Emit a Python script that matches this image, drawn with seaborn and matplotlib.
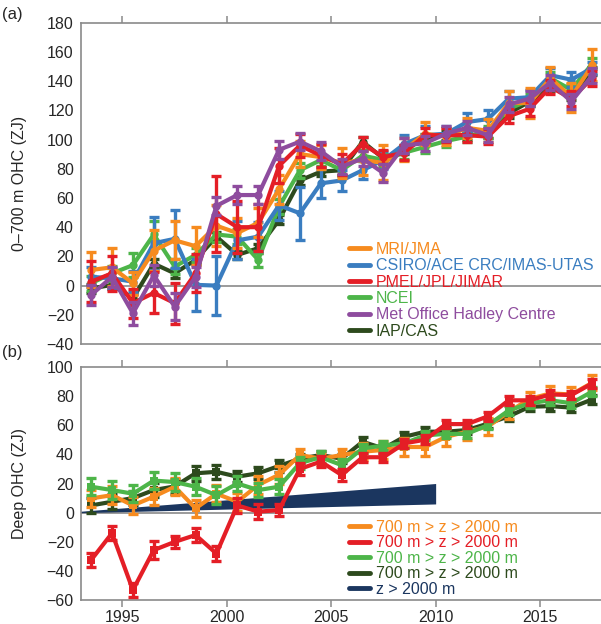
import numpy as np
import pandas as pd
import matplotlib
matplotlib.use("Agg")
import matplotlib.pyplot as plt
import seaborn as sns
from matplotlib.lines import Line2D

# === Data ===
years = [1993.5, 1994.5, 1995.5, 1996.5, 1997.5, 1998.5, 1999.5, 2000.5, 2001.5,
         2002.5, 2003.5, 2004.5, 2005.5, 2006.5, 2007.5, 2008.5, 2009.5, 2010.5,
         2011.5, 2012.5, 2013.5, 2014.5, 2015.5, 2016.5, 2017.5]

# (a) 0-700 m OHC (ZJ)
mri = [10.7, 12.5, 1.6, 24, 31, 27, 41, 36, 43, 66, 90, 88, 84, 86, 84, 93, 104, 102, 108, 106, 125, 125, 142, 129, 151]
mri_err = [12, 13, 8, 14, 13, 13, 14, 10, 10, 10, 9, 8, 10, 10, 12, 8, 8, 6, 7, 8, 8, 10, 8, 10, 11]
csiro = [6, 5, 2.7, 29, 32, 0.5, 0, 31, 33.5, 55, 49.5, 70, 72, 79, 86, 97, 103, 104, 112, 114, 128, 129, 144, 141, 149]
csiro_err = [7, 7, 7, 18, 20, 18, 20, 13, 10, 10, 18, 10, 7, 6, 6, 6, 6, 5, 6, 6, 5, 5, 5, 5, 4]
pmel = [2.7, 8.4, -12, -5, -12, 8.4, 49, 40, 40, 82, 96, 89, 83, 97, 88, 91, 103, 103, 103, 102, 116, 121, 136, 128, 142]
pmel_err = [14, 12, 10, 14, 14, 13, 26, 18, 16, 12, 8, 8, 7, 5, 5, 5, 5, 5, 5, 5, 5, 5, 5, 5, 5]
ncei = [1.6, 8.4, 14, 35, 13, 21, 35, 33.5, 17.6, 54, 79, 86, 79, 89, 86, 91, 95, 99, 102, 105, 121, 127, 142, 134, 152]
ncei_err = [5, 5, 8, 9, 5, 5, 5, 5, 5, 5, 5, 4, 4, 4, 4, 4, 4, 4, 4, 4, 4, 4, 4, 4, 4]
metoffice = [-6.4, 6, -19, 7, -14.4, 6, 54.6, 62, 62, 93, 98.6, 92, 81.5, 87, 77, 96, 97.5, 104, 108, 103, 124, 128, 139, 126, 144]
metoffice_err = [7, 7, 8, 7, 9, 7, 6, 6, 6, 6, 6, 6, 5, 5, 6, 5, 5, 5, 5, 5, 5, 5, 5, 5, 5]
iap = [-2, 0.5, -8.7, 15, 8.4, 17.6, 33.5, 21, 25.6, 45, 72, 78, 79, 98.6, 87, 93, 101, 103, 103, 104, 118, 126, 136, 130, 147]
iap_err = [3, 3, 3, 3, 3, 3, 3, 3, 3, 3, 3, 3, 3, 3, 3, 3, 3, 3, 3, 3, 3, 3, 3, 3, 3]

# (b) deep OHC 700-2000 m (ZJ)
deep_orange = [9.8, 12, 5, 11, 17.8, 3, 13, 7.5, 19, 26, 39.5, 37, 39.5, 41.8, 43, 45, 45, 52, 55.5, 59, 69, 78, 81.7, 81, 89]
deep_orange_err = [6, 6, 6, 6, 6, 6, 6, 6, 6, 6, 4, 4, 4, 6, 6, 6, 6, 6, 6, 6, 5, 5, 5, 5, 5]
deep_red = [-32.4, -14, -53, -25.6, -20, -15.3, -28, 5, 0.7, 1.8, 30, 35, 25.8, 38, 38, 47.5, 50, 60.7, 60.7, 66, 77, 77, 81, 80.6, 88.6]
deep_red_err = [5, 5, 5, 6, 4, 5, 5, 5, 5, 4, 4, 4, 4, 3, 3, 3, 3, 3, 3, 3, 3, 3, 3, 3, 3]
deep_green = [17.8, 15.5, 13, 22, 21, 17.8, 12, 20, 15.5, 17.8, 34, 38, 32.6, 44, 46, 47.5, 53, 54, 54, 60, 70, 75, 77, 75, 83]
deep_green_err = [6, 6, 6, 6, 6, 6, 6, 5, 5, 5, 4, 4, 4, 3, 3, 3, 3, 3, 3, 3, 3, 3, 3, 3, 3]
deep_dark = [5, 7.5, 10, 15.5, 18, 27, 28, 24.7, 27, 32, 37, 39.5, 37, 48.6, 44, 52, 55.5, 55.5, 56.6, 61, 66, 72.6, 73, 72, 77.6]
deep_dark_err = [5, 5, 5, 5, 5, 5, 5, 4, 4, 4, 3, 3, 3, 3, 3, 3, 3, 3, 3, 3, 3, 3, 3, 3, 3]

wedge_years = [1993, 2010]
wedge_low = [0, 6]
wedge_high = [1, 20]

top_names = ["MRI/JMA", "CSIRO/ACE CRC/IMAS-UTAS", "PMEL/JPL/JIMAR", "NCEI",
             "Met Office Hadley Centre", "IAP/CAS"]
top_colors = ["#F68B1F", "#3A7DC0", "#E41E26", "#4DB549", "#8E4C9E", "#2D4A1D"]
top_vals = [mri, csiro, pmel, ncei, metoffice, iap]
top_errs = [mri_err, csiro_err, pmel_err, ncei_err, metoffice_err, iap_err]
top_draw_order = [5, 3, 1, 0, 2, 4]

deep_names = ["700 m > z > 2000 m"] * 4 + ["z > 2000 m"]
deep_colors = ["#F68B1F", "#E41E26", "#4DB549", "#2D4A1D", "#1B365F"]
deep_vals = [deep_orange, deep_red, deep_green, deep_dark]
deep_errs = [deep_orange_err, deep_red_err, deep_green_err, deep_dark_err]
deep_draw_order = [3, 0, 2, 1]

# === Style ===
sns.set_style("white")
plt.rcParams["font.family"] = ["Liberation Sans", "DejaVu Sans"]
gray = "#8a8a8a"

fig = plt.figure(figsize=(6.01, 6.24), dpi=100)
ax1 = fig.add_axes([0.1343, 0.4487, 0.8657, 0.5149])
ax2 = fig.add_axes([0.1343, 0.0380, 0.8657, 0.3743])


def draw_series(ax, vals, errs, colors, order, marker, ms):
    rows = []
    for i in order:
        for x, v in zip(years, vals[i]):
            rows.append({"year": x, "value": v, "series": i})
    df = pd.DataFrame(rows)
    for k, i in enumerate(order):
        ax.errorbar(years, vals[i], yerr=errs[i], fmt="none", ecolor=colors[i],
                    elinewidth=2.4, capsize=3.5, capthick=2.4, zorder=3 + k)
        sns.lineplot(data=df[df["series"] == i], x="year", y="value", color=colors[i],
                     linewidth=3, marker=marker, markersize=ms, markeredgewidth=0,
                     legend=False, errorbar=None, ax=ax, zorder=3 + k)


draw_series(ax1, top_vals, top_errs, top_colors, top_draw_order, "o", 6)
ax2.fill_between(wedge_years, wedge_low, wedge_high, color=deep_colors[4], lw=0, zorder=2)
draw_series(ax2, deep_vals, deep_errs, deep_colors, deep_draw_order, "s", 6)

for ax in (ax1, ax2):
    ax.set_xlim(1993, 2017.92)
    ax.axhline(0, color=gray, lw=1.2, zorder=1)
    for side in ["left", "top", "bottom"]:
        ax.spines[side].set_color(gray)
        ax.spines[side].set_linewidth(1.2)
    ax.spines["right"].set_visible(False)
    ax.set_xticks([1995, 2000, 2005, 2010, 2015])
    ax.tick_params(axis="y", length=0, labelsize=11.5, pad=5)
    ax.tick_params(axis="x", direction="out", length=5, width=1.1, color=gray,
                   labelsize=11.5, pad=2)
    ax.set_xlabel("")

ax1.set_ylim(-40, 180)
ax1.set_yticks(np.arange(-40, 181, 20))
ax1.tick_params(axis="x", top=True, bottom=False, labeltop=False, labelbottom=False)
ax1.set_ylabel("0–700 m OHC (ZJ)", fontsize=11.5)
ax1.yaxis.set_label_coords(-0.103, 0.5)

ax2.set_ylim(-60, 100)
ax2.set_yticks(np.arange(-60, 101, 20))
ax2.tick_params(axis="x", top=True, bottom=True, labeltop=False, labelbottom=True)
ax2.set_ylabel("Deep OHC (ZJ)", fontsize=11.5)
ax2.yaxis.set_label_coords(-0.103, 0.5)

# legends
h1 = [Line2D([0], [0], color=c, lw=3.5) for c in top_colors]
ax1.legend(h1, top_names, labelcolor=top_colors, frameon=False, fontsize=11.5,
           handlelength=1.3, handletextpad=0.4, labelspacing=0.085, borderpad=0,
           loc="upper left", bbox_to_anchor=(0.5, 0.343))
h2 = [Line2D([0], [0], color=c, lw=3.5) for c in deep_colors]
ax2.legend(h2, deep_names, labelcolor=deep_colors, frameon=False, fontsize=11.5,
           handlelength=1.3, handletextpad=0.4, labelspacing=0.03, borderpad=0,
           loc="upper left", bbox_to_anchor=(0.5, 0.378))

fig.text(0.003, 1 - 15 / 624, "(a)", fontsize=12, va="center", ha="left")
fig.text(0.003, 1 - 352 / 624, "(b)", fontsize=12, va="center", ha="left")

fig.savefig("out.png", dpi=100)
